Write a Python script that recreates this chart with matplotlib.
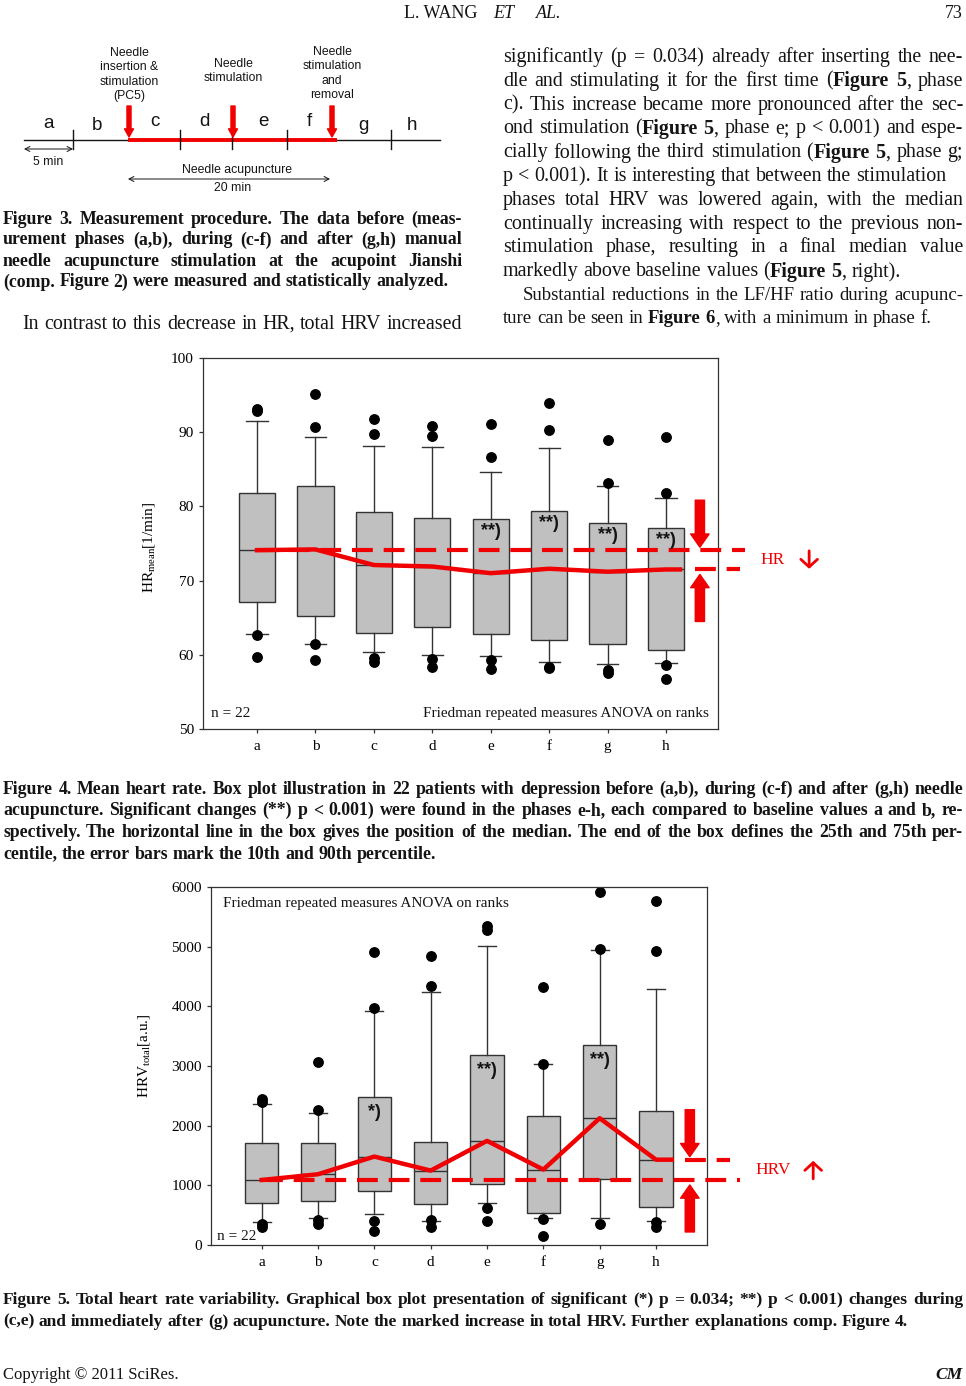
import matplotlib
matplotlib.use('Agg')
import matplotlib.pyplot as plt
from matplotlib import transforms
from matplotlib.font_manager import FontProperties

plt.rcParams['font.family'] = ['Liberation Serif', 'DejaVu Sans']
plt.rcParams['mathtext.fontset'] = 'custom'
plt.rcParams['mathtext.rm'] = 'Liberation Serif'
plt.rcParams['mathtext.it'] = 'Liberation Serif:italic'

RED = '#f00000'
INK = '#141414'
BOX = '#c0c0c0'
EDGE = '#333333'

# ---- data ----
phases = ['a', 'b', 'c', 'd', 'e', 'f', 'g', 'h']

hr_med = [74.1, 74.2, 72.1, 71.9, 71.0, 71.6, 71.2, 71.5]
hr_q1 = [67.1, 65.2, 63.0, 63.7, 62.8, 62.0, 61.4, 60.6]
hr_q3 = [81.8, 82.7, 79.3, 78.4, 78.3, 79.4, 77.8, 77.1]
hr_p10 = [62.85, 61.5, 60.4, 60.0, 59.9, 59.0, 58.8, 58.9]
hr_p90 = [91.55, 89.3, 88.2, 88.0, 84.7, 87.9, 82.8, 81.1]
hr_out_hi = [[93.1, 92.8], [95.1, 90.7], [91.8, 89.7], [90.8, 89.5],
             [91.1, 86.7], [94.0, 90.3], [88.9, 83.1], [89.4, 81.8]]
hr_out_lo = [[62.7, 59.75], [61.4, 59.3], [59.6, 59.0], [59.4, 58.4],
             [59.3, 58.1], [58.4, 58.2], [58.0, 57.6], [58.6, 56.7]]
hr_sig = ['', '', '', '', '**)', '**)', '**)', '**)']

hrv_med = [1090, 1186, 1482, 1247, 1745, 1264, 2125, 1430]
hrv_q1 = [699, 744, 912, 694, 1018, 531, 1113, 632]
hrv_q3 = [1717, 1711, 2483, 1734, 3188, 2159, 3356, 2243]
hrv_p10 = [380, 447, 515, 408, 699, 447, 447, 403]
hrv_p90 = [2360, 2220, 3926, 4234, 5017, 3031, 4950, 4290]
hrv_out_hi = [[2444, 2394], [3059, 2260], [4911, 3977], [4843, 4346],
              [5352, 5274], [4318, 3037], [5923, 4961], [5761, 4927]]
hrv_out_lo = [[352, 308], [419, 352], [403, 235], [419, 308],
              [615, 403], [436, 151], [352], [380, 308]]
hrv_sig = ['', '', '*)', '', '**)', '', '**)', '']

# ---- page text ----
right_col = [
    ("significantly (p = 0.034) already after inserting the nee-", True),
    ("dle and stimulating it for the first time (§Figure 5§, phase", True),
    ("c). This increase became more pronounced after the sec-", True),
    ("ond stimulation (§Figure 5§, phase e; p < 0.001) and espe-", True),
    ("cially following the third stimulation (§Figure 5§, phase g;", True),
    ("p < 0.001). It is interesting that between the stimulation", False),
    ("phases total HRV was lowered again, with the median", True),
    ("continually increasing with respect to the previous non-", True),
    ("stimulation phase, resulting in a final median value", True),
    ("markedly above baseline values (§Figure 5§, right).", False),
]
right_col2 = [
    ("Substantial reductions in the LF/HF ratio during acupunc-", True),
    ("ture can be seen in §Figure 6§, with a minimum in phase f.", False),
]
fig3_caption = [
    ("Figure 3. Measurement procedure. The data before (meas-", True),
    ("urement phases (a,b), during (c-f) and after (g,h) manual", True),
    ("needle acupuncture stimulation at the acupoint Jianshi", True),
    ("(comp. Figure 2) were measured and statistically analyzed.", False),
]
left_body = "In contrast to this decrease in HR, total HRV increased"
fig4_caption = [
    ("Figure 4. Mean heart rate. Box plot illustration in 22 patients with depression before (a,b), during (c-f) and after (g,h) needle", True),
    ("acupuncture. Significant changes (**) p < 0.001) were found in the phases e-h, each compared to baseline values a and b, re-", True),
    ("spectively. The horizontal line in the box gives the position of the median. The end of the box defines the 25th and 75th per-", True),
    ("centile, the error bars mark the 10th and 90th percentile.", False),
]
fig5_caption = [
    ("Figure 5. Total heart rate variability. Graphical box plot presentation of significant (*) p = 0.034; **) p < 0.001) changes during", True),
    ("(c,e) and immediately after (g) acupuncture. Note the marked increase in total HRV. Further explanations comp. Figure 4.", False),
]
top_labels = [["Needle", "insertion &", "stimulation", "(PC5)"],
              ["Needle", "stimulation"],
              ["Needle", "stimulation", "and", "removal"]]

fig = plt.figure(figsize=(9.66, 13.86), dpi=100)
page = fig.add_axes([0, 0, 1, 1])
page.set_xlim(0, 966)
page.set_ylim(1386, 0)
page.axis('off')
renderer = fig.canvas.get_renderer()


def fp(size, bold=False, italic=False, family='Liberation Serif'):
    return FontProperties(family=family, size=size,
                          weight='bold' if bold else 'normal',
                          style='italic' if italic else 'normal')


def tw(s, prop):
    return renderer.get_text_width_height_descent(s, prop, ismath=False)[0]


def split_words(s):
    # '§' switches bold on / off
    words, bold = [], False
    for w in s.split():
        parts = []
        for k, p in enumerate(w.split('§')):
            if k:
                bold = not bold
            if p:
                parts.append((p, bold))
        words.append(parts)
    return words


def space(size, bold):
    return tw('a a', fp(size, bold)) - tw('aa', fp(size, bold))


def natural(s, size, bold=False):
    words = split_words(s)
    w = sum(tw(p, fp(size, bold or b)) for parts in words for p, b in parts)
    return w + space(size, bold) * (len(words) - 1)


def fit(s, width, bold=False):
    return 10 * width / natural(s, 10, bold)


def put_line(s, x0, y, size, x1=None, bold=False):
    words = split_words(s)
    widths = [sum(tw(p, fp(size, bold or b)) for p, b in parts) for parts in words]
    if x1 is None or len(words) < 2:
        gap = space(size, bold)
    else:
        gap = (x1 - x0 - sum(widths)) / (len(words) - 1)
    x = x0
    for parts, w in zip(words, widths):
        xx = x
        for p, b in parts:
            page.text(xx, y, p, fontproperties=fp(size, bold or b),
                      ha='left', va='center_baseline', color=INK)
            xx += tw(p, fp(size, bold or b))
        x += w + gap


def paragraph(lines, x0, x1, y0, dy, size, bold=False, first_indent=0):
    for i, (s, just) in enumerate(lines):
        xs = x0 + (first_indent if i == 0 else 0)
        put_line(s, xs, y0 + i * dy, size, x1 if just else None, bold)


# header
hsize = fit("L. WANG", 74)
page.text(404, 11, "L. WANG", fontproperties=fp(hsize), va='center_baseline', color=INK)
page.text(493, 11, "ET", fontproperties=fp(hsize, italic=True), va='center_baseline', color=INK)
page.text(536, 11, "AL.", fontproperties=fp(hsize, italic=True), va='center_baseline', color=INK)
page.text(963, 12, "73", fontproperties=fp(hsize), ha='right', va='center_baseline', color=INK)

# body text
bsize = fit(right_col[5][0], 444)
paragraph(right_col, 503, 963, 55, 23.8, bsize)
b2size = fit(right_col2[1][0], 427)
paragraph(right_col2, 503, 963, 55 + 10 * 23.8, 23.8, b2size, first_indent=20)
put_line(left_body, 22, 322, bsize, 462)

c3size = fit(fig3_caption[-1][0], 445, bold=True)
paragraph(fig3_caption, 3, 462, 217, 21, c3size, bold=True)

c4size = fit(fig4_caption[-1][0], 433, bold=True)
paragraph(fig4_caption, 3, 963, 787, 21.7, c4size, bold=True)
c5size = fit(fig5_caption[-1][0], 906, bold=True)
paragraph(fig5_caption, 3, 963, 1298, 21.7, c5size, bold=True)

csize = fit("Copyright © 2011 SciRes.", 176)
page.text(3, 1373, "Copyright © 2011 SciRes.", fontproperties=fp(csize), va='center_baseline', color=INK)
page.text(963, 1373, "CM", fontproperties=fp(csize * 1.05, bold=True, italic=True), ha='right',
          va='center_baseline', color=INK)

# ---- Figure 3: measurement timeline ----
sans = 'Liberation Sans'
page.plot([24, 440], [140, 140], color=INK, lw=1.0)
page.plot([128, 337], [140, 140], color=RED, lw=2.8, solid_capstyle='butt')
for x in [73, 180, 232, 287, 391]:
    page.plot([x, x], [130, 149], color=INK, lw=1.0)
letter_x = [48, 97, 155, 204, 263, 309, 363, 412]
letter_y = [124, 125, 122, 122, 122, 122, 126, 126]
for lab, x, y in zip(phases, letter_x, letter_y):
    page.text(x, y, lab, family=sans, fontsize=13.5, ha='center', va='center', color=INK)
for x, lines, y0 in zip([129, 233, 332], top_labels, [53, 64, 52]):
    page.annotate('', xy=(x, 137), xytext=(x, 106),
                  arrowprops=dict(arrowstyle='simple,head_width=1.0,head_length=0.9,tail_width=0.45',
                                  mutation_scale=6.5, color=RED, shrinkA=0, shrinkB=0))
    for i, s in enumerate(lines):
        page.text(x, y0 + i * 14.4, s, family=sans, fontsize=8.8, ha='center', va='center', color=INK)
arrow2 = dict(arrowstyle='<->,head_length=0.35,head_width=0.18', lw=0.7, color=INK,
              shrinkA=0, shrinkB=0, mutation_scale=10)
page.annotate('', xy=(24, 149), xytext=(73, 149), arrowprops=arrow2)
page.text(48, 162, "5 min", family=sans, fontsize=8.8, ha='center', va='center', color=INK)
page.annotate('', xy=(128, 179), xytext=(330, 179), arrowprops=arrow2)
page.text(237, 170, "Needle acupuncture", family=sans, fontsize=8.8, ha='center', va='center', color=INK)
page.text(233, 188, "20 min", family=sans, fontsize=8.8, ha='center', va='center', color=INK)

# ---- box plot panels ----
pos = list(range(1, len(phases) + 1))
FIG_W, FIG_H = 966, 1386


def panel(rect_px, xlim, ylim, yticks, med, q1, q3, lo, hi, out_hi, out_lo, sig, sig_drop,
          width, capw, ylabel, ylab_xy, line_end, dash_end, dash2, ann_x, word, word_x, arr_x, up):
    x0, y0, x1, y1 = rect_px
    ax = fig.add_axes([x0 / FIG_W, 1 - y1 / FIG_H, (x1 - x0) / FIG_W, (y1 - y0) / FIG_H])
    stats = [dict(med=med[i], q1=q1[i], q3=q3[i], whislo=lo[i], whishi=hi[i],
                  fliers=out_hi[i] + out_lo[i], label=phases[i]) for i in range(len(phases))]
    ax.bxp(stats, positions=pos, widths=width, capwidths=capw, patch_artist=True,
           boxprops=dict(facecolor=BOX, edgecolor=EDGE, lw=1.0),
           medianprops=dict(color=EDGE, lw=1.0),
           whiskerprops=dict(color=EDGE, lw=1.0),
           capprops=dict(color=EDGE, lw=1.0),
           flierprops=dict(marker='o', markerfacecolor='black', markeredgecolor='black', markersize=6.8))
    ax.set_xlim(*xlim)
    ax.set_ylim(*ylim)
    ax.set_yticks(yticks)
    ax.set_xticks(pos, phases)
    ax.tick_params(direction='out', length=3, width=0.9, color=EDGE, labelsize=11, pad=3.5)
    ax.tick_params(axis='x', pad=5)
    for sp in ax.spines.values():
        sp.set_color(EDGE)
        sp.set_linewidth(0.9)
    ax.set_ylabel(ylabel, fontsize=11)
    ax.yaxis.set_label_coords(*ylab_xy)

    # medians joined, baseline and final level as dashed references
    ax.plot(pos + [line_end], med + [med[-1]], color=RED, lw=3.2, zorder=5,
            solid_joinstyle='round', clip_on=False)
    dash = dict(color=RED, lw=3.0, dashes=(5, 2.6), dash_capstyle='butt', zorder=5, clip_on=False)
    ax.plot([pos[0], dash_end], [med[0], med[0]], **dash)
    ax.plot(dash2, [med[-1], med[-1]], **dash)

    for p, s, top in zip(pos, sig, q3):
        if s:
            ax.text(p, top - sig_drop, s, family='Liberation Sans', weight='bold', fontsize=13,
                    ha='center', va='center', color=INK, zorder=6)

    upper, lower = max(med[0], med[-1]), min(med[0], med[-1])
    big = dict(arrowstyle='simple,head_width=1.4,head_length=1.0,tail_width=0.7',
               mutation_scale=9.5, color=RED, shrinkA=0, shrinkB=0)
    tip_top = transforms.offset_copy(ax.transData, fig=fig, x=0, y=3, units='dots')
    tip_bot = transforms.offset_copy(ax.transData, fig=fig, x=0, y=-5, units='dots')
    ax.annotate('', xy=(ann_x, upper), xycoords=tip_top, xytext=(0, 47),
                textcoords='offset pixels', arrowprops=big, annotation_clip=False)
    ax.annotate('', xy=(ann_x, lower), xycoords=tip_bot, xytext=(0, -47),
                textcoords='offset pixels', arrowprops=big, annotation_clip=False)
    mid = (upper + lower) / 2
    ax.text(word_x, mid, word, color=RED, fontsize=12.5, ha='left', va='center', clip_on=False)
    # small direction arrow next to the label
    sign = 1 if up else -1
    tip = transforms.offset_copy(ax.transData, fig=fig, x=0, y=9 * sign, units='dots')
    small = dict(arrowstyle='->,head_length=0.55,head_width=0.6', lw=2.0, color=RED,
                 shrinkA=0, shrinkB=0, mutation_scale=10)
    ax.annotate('', xy=(arr_x, mid), xycoords=tip, xytext=(0, -18 * sign),
                textcoords='offset pixels', arrowprops=small, annotation_clip=False)
    return ax


ax1 = panel((203, 358, 718, 729), (0.076, 8.89), (50, 100), [50, 60, 70, 80, 90, 100],
            hr_med, hr_q1, hr_q3, hr_p10, hr_p90, hr_out_hi, hr_out_lo, hr_sig, 1.7,
            0.62, 0.36, r'HR$_{\mathrm{mean}}$[1/min]', (-0.089, 0.49),
            8.24, 9.35, [8.50, 9.27], 8.58, 'HR', 9.61, 10.45, False)
ax1.text(0.016, 0.043, 'n = 22', transform=ax1.transAxes, fontsize=11, va='center', color=INK)
ax1.text(0.983, 0.043, 'Friedman repeated measures ANOVA on ranks', transform=ax1.transAxes,
         fontsize=11, ha='right', va='center', color=INK)

ax2 = panel((211, 887, 707, 1245), (0.10, 8.905), (0, 6000), [0, 1000, 2000, 3000, 4000, 5000, 6000],
            hrv_med, hrv_q1, hrv_q3, hrv_p10, hrv_p90, hrv_out_hi, hrv_out_lo, hrv_sig, 260,
            0.59, 0.32, r'HRV$_{\mathrm{total}}$[a.u.]', (-0.119, 0.53),
            8.28, 9.49, [8.51, 9.31], 8.60, 'HRV', 9.76, 10.79, True)
ax2.text(0.012, 0.025, 'n = 22', transform=ax2.transAxes, fontsize=11, va='center', color=INK)
ax2.text(0.024, 0.953, 'Friedman repeated measures ANOVA on ranks', transform=ax2.transAxes,
         fontsize=11, ha='left', va='center', color=INK)

fig.savefig('out.png', dpi=100)
